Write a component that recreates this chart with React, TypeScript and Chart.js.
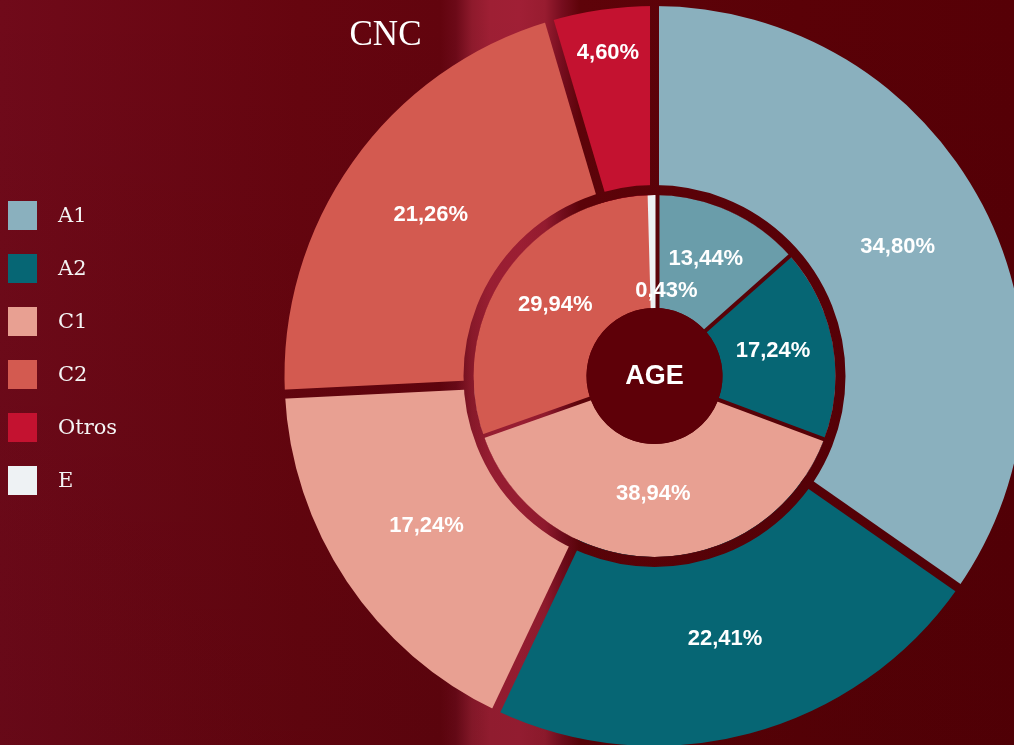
import React, { useEffect, useRef } from "react";
import { Chart, registerables } from "chart.js";

Chart.register(...registerables);

// ---- data ----
const titleText = "CNC";
const centerText = "AGE";
const outerCategories = ["A1", "A2", "C1", "C2", "Otros"];
const outerValues = [34.8, 22.41, 17.24, 21.26, 4.6];
const innerCategories = ["A1", "A2", "C1", "C2", "E"];
const innerValues = [13.44, 17.24, 38.94, 29.94, 0.43];
const legendLabels = ["A1", "A2", "C1", "C2", "Otros", "E"];

// ---- styles ----
const outerColors = ["#8AB0BE", "#066674", "#E8A092", "#D35A50", "#C41230"];
const innerColors = ["#6A9DAA", "#066674", "#E8A092", "#D35A50", "#EEF2F4"];
const innerBorderWidths = [0, 0, 0, 0, 4];
const legendColors = ["#8AB0BE", "#066674", "#E8A092", "#D35A50", "#C41230", "#EEF2F4"];

const RING_GAP = 10;
const OUTER_GAP = 9;
const INNER_GAP = 4;
const LABEL_FONT = 'bold 22px "Liberation Sans", Arial, sans-serif';
const CENTER_FONT = 'bold 27px "Liberation Sans", Arial, sans-serif';

const fmt = (v: number) => v.toFixed(2).replace(".", ",") + "%";

const BG =
  "linear-gradient(to bottom, rgba(0,0,0,0) 0%, rgba(20,0,0,0.10) 100%)," +
  "linear-gradient(to right, #700A1A 0px, #66050F 300px, #62040E 440px, #6C0A18 456px, #8E1A2C 472px, #9E1F34 490px, #A01F35 520px, #981C30 545px, #760D1E 562px, #5E0309 580px, #5A0107 800px, #560006 1014px)";

const ringPlugin = {
  id: "ringDecor",
  afterDatasetsDraw(chart: any) {
    const ctx: CanvasRenderingContext2D = chart.ctx;
    const outerMeta = chart.getDatasetMeta(0);
    const innerMeta = chart.getDatasetMeta(1);
    const first = outerMeta.data[0] as any;
    const cx = first.x;
    const cy = first.y;
    const innerRingOuter = (innerMeta.data[0] as any).outerRadius;
    const innerRingInner = (innerMeta.data[0] as any).innerRadius;
    const outerRingOuter = first.outerRadius;
    const outerRingInner = innerRingOuter + RING_GAP;

    ctx.save();
    ctx.globalCompositeOperation = "destination-out";
    ctx.strokeStyle = "#000";
    // gap between rings
    ctx.beginPath();
    ctx.lineWidth = RING_GAP;
    ctx.arc(cx, cy, innerRingOuter + RING_GAP / 2, 0, Math.PI * 2);
    ctx.stroke();

    const cutGaps = (meta: any, gap: number, r0: number, r1: number) => {
      const arcs = meta.data as any[];
      const n = arcs.length;
      for (let i = 0; i < n; i++) {
        const a = arcs[i];
        const prev = arcs[(i - 1 + n) % n];
        const tinyCur = (a.endAngle - a.startAngle) * r1 < 12;
        const tinyPrev = (prev.endAngle - prev.startAngle) * r1 < 12;
        if (tinyCur) continue; // no gap before a tiny slice
        const ang = a.startAngle;
        const ux = Math.cos(ang);
        const uy = Math.sin(ang);
        const nx = -uy;
        const ny = ux;
        const shift = tinyPrev ? gap / 2 + 1 : 0;
        ctx.beginPath();
        ctx.lineWidth = gap;
        ctx.moveTo(cx + ux * r0 + nx * shift, cy + uy * r0 + ny * shift);
        ctx.lineTo(cx + ux * r1 + nx * shift, cy + uy * r1 + ny * shift);
        ctx.stroke();
      }
    };
    cutGaps(outerMeta, OUTER_GAP, innerRingOuter, outerRingOuter + 3);
    cutGaps(innerMeta, INNER_GAP, innerRingInner - 1, innerRingOuter + 1);
    ctx.restore();

    // center disc
    ctx.save();
    ctx.beginPath();
    ctx.fillStyle = "#5E0008";
    ctx.arc(cx, cy, innerRingInner, 0, Math.PI * 2);
    ctx.fill();
    ctx.fillStyle = "#FFFFFF";
    ctx.font = CENTER_FONT;
    ctx.textAlign = "center";
    ctx.textBaseline = "alphabetic";
    ctx.fillText(centerText, cx, cy + 8);

    // slice labels
    ctx.font = LABEL_FONT;
    const drawLabels = (meta: any, values: number[], rIn: number, rOut: number) => {
      (meta.data as any[]).forEach((a, i) => {
        const text = fmt(values[i]);
        const w = ctx.measureText(text).width;
        const mid = (a.startAngle + a.endAngle) / 2;
        const alpha = a.endAngle - a.startAngle;
        let r = rIn + (rOut - rIn) * 0.465;
        let dx = 0;
        if (alpha * r < w + 36) {
          const need = (w + 31) / alpha;
          if (need <= rOut - 16) r = need;
          else {
            r = rIn + 15;
            dx = 13;
          }
        }
        const x = cx + Math.cos(mid) * r + dx;
        const y = cy + Math.sin(mid) * r;
        ctx.fillText(text, x, y + 3.5);
      });
    };
    drawLabels(outerMeta, outerValues, outerRingInner, outerRingOuter);
    drawLabels(innerMeta, innerValues, innerRingInner, innerRingOuter);
    ctx.restore();
  },
};

export default function App() {
  const canvasRef = useRef<HTMLCanvasElement | null>(null);

  useEffect(() => {
    if (!canvasRef.current) return;
    const chart = new Chart(canvasRef.current, {
      type: "doughnut",
      data: {
        labels: outerCategories,
        datasets: [
          {
            label: "Outer",
            data: outerValues,
            backgroundColor: outerColors,
            borderWidth: 0,
            hoverOffset: 0,
            weight: 189,
          },
          {
            label: "Inner",
            data: innerValues,
            backgroundColor: innerColors,
            borderColor: innerColors,
            borderWidth: innerBorderWidths,
            hoverOffset: 0,
            weight: 113,
          },
        ],
      },
      options: {
        responsive: false,
        animation: false,
        events: [],
        cutout: 68,
        layout: { padding: { left: 284.5, top: 6, right: 15.5, bottom: 6 } },
        plugins: {
          legend: { display: false },
          title: { display: false },
          tooltip: { enabled: false },
        },
      },
      plugins: [ringPlugin],
    });
    return () => chart.destroy();
  }, []);

  return (
    <div
      style={{
        position: "fixed",
        left: 0,
        top: 0,
        width: 1014,
        height: 745,
        overflow: "hidden",
        background: BG,
      }}
    >
      <canvas
        ref={canvasRef}
        width={1040}
        height={752}
        style={{ position: "absolute", left: 0, top: 0, width: 1040, height: 752 }}
      />
      <div
        style={{
          position: "absolute",
          left: 300,
          top: 16,
          width: 171,
          textAlign: "center",
          font: '35px "Liberation Serif", "Times New Roman", serif',
          lineHeight: "35px",
          color: "#FFFFFF",
        }}
      >
        {titleText}
      </div>
      {legendLabels.map((lab, i) => (
        <div
          key={lab}
          style={{
            position: "absolute",
            left: 8,
            top: 201 + i * 53,
            height: 29,
            display: "flex",
            alignItems: "center",
          }}
        >
          <div style={{ width: 29, height: 29, background: legendColors[i] }} />
          <div
            style={{
              marginLeft: 21,
              font: '21px "DejaVu Serif", serif',
              lineHeight: "29px",
              color: "#F4F4F4",
            }}
          >
            {lab}
          </div>
        </div>
      ))}
    </div>
  );
}
